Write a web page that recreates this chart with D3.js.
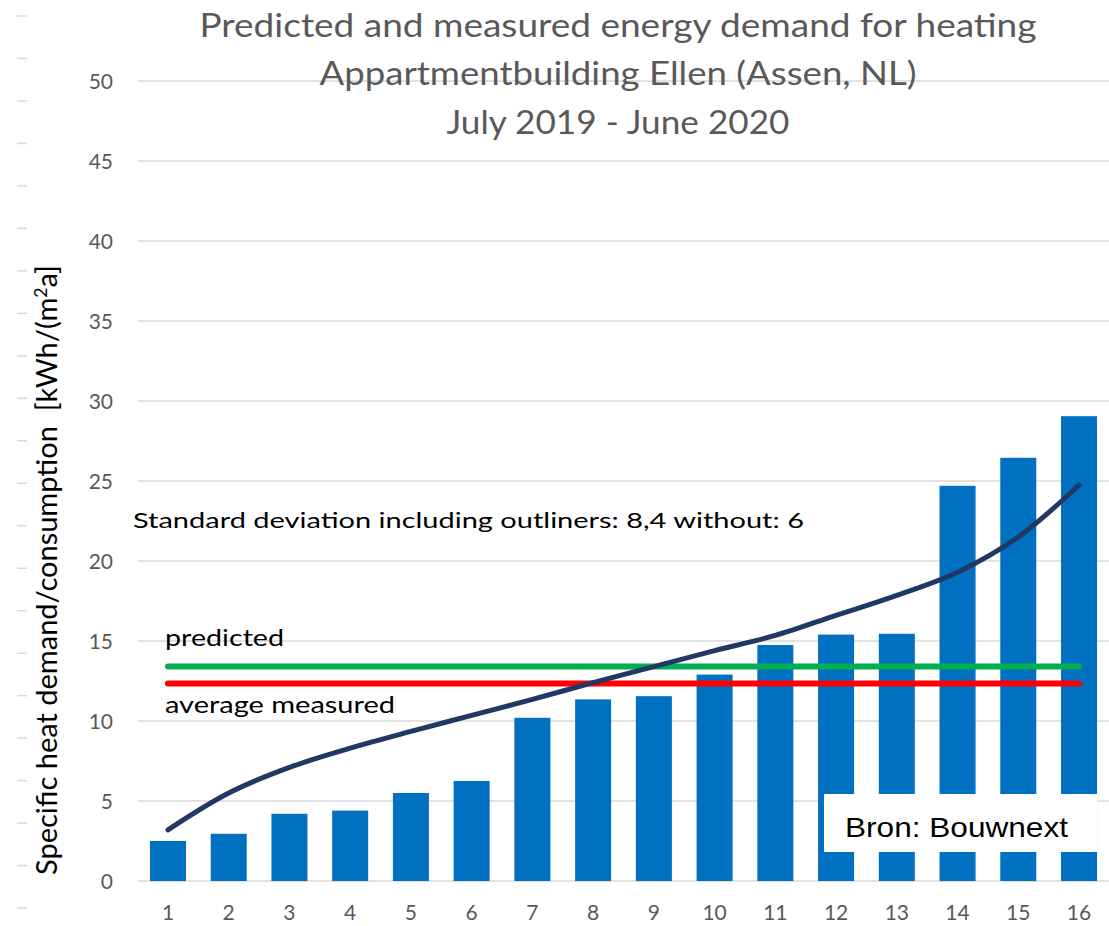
<!DOCTYPE html>
<html>
<head>
<meta charset="utf-8">
<script src="https://cdn.jsdelivr.net/npm/d3@7"></script>
<style>
  html, body { margin: 0; padding: 0; background: #fff; }
  svg { display: block; }
</style>
</head>
<body>
<svg id="chart" width="1109" height="926"></svg>
<script>
// ---- data ----
const categories = ["1","2","3","4","5","6","7","8","9","10","11","12","13","14","15","16"];
const measured   = [2.5, 2.95, 4.2, 4.4, 5.5, 6.25, 10.2, 11.35, 11.55, 12.9, 14.75, 15.4, 15.45, 24.7, 26.45, 29.05];
const trend      = [3.2, 5.5, 7.1, 8.3, 9.35, 10.35, 11.35, 12.4, 13.4, 14.4, 15.35, 16.6, 17.85, 19.3, 21.5, 24.75];
const predictedValue = 13.4;
const averageMeasuredValue = 12.35;
const yTicks = [0, 5, 10, 15, 20, 25, 30, 35, 40, 45, 50];
const titleLines = ["Predicted and measured energy demand for heating",
                    "Appartmentbuilding Ellen (Assen, NL)",
                    "July 2019 - June 2020"];
const stdText = "Standard deviation including outliners: 8,4 without: 6";
const sourceText = "Bron: Bouwnext";

// ---- layout ----
const svg = d3.select("#chart");
const font = "Lato, 'Open Sans', sans-serif";
const x = d3.scaleBand().domain(categories).range([137.6, 1109.4]).paddingInner(0.407).paddingOuter(0.2035);
const y = d3.scaleLinear().domain([0, 50]).range([881, 81]);
const cx = d => x(d) + x.bandwidth() / 2;

// decorative left ruler dashes
svg.append("g").selectAll("line").data(d3.range(22)).join("line")
  .attr("x1", 17).attr("x2", 27)
  .attr("y1", i => 16 + i * 42.48).attr("y2", i => 16 + i * 42.48)
  .attr("stroke", "#d9d9d9").attr("stroke-width", 1.5);

// gridlines
svg.append("g").selectAll("line").data(yTicks).join("line")
  .attr("x1", 138).attr("x2", 1109)
  .attr("y1", d => y(d)).attr("y2", d => y(d))
  .attr("stroke", "#d9d9d9").attr("stroke-width", 1.5);

// y axis labels
const yAxis = svg.append("g").attr("transform", "translate(113,0)")
  .call(d3.axisLeft(y).tickValues(yTicks).tickSize(0).tickPadding(0));
yAxis.select(".domain").remove();
yAxis.selectAll("text").attr("font-family", font).attr("font-size", 21).attr("fill", "#595959").attr("dy", "0.36em");

// x axis labels
const xAxis = svg.append("g").attr("transform", "translate(0,881)")
  .call(d3.axisBottom(x).tickSize(0).tickPadding(24));
xAxis.select(".domain").remove();
xAxis.selectAll("text").attr("font-family", font).attr("font-size", 21).attr("fill", "#595959");

// bars
svg.append("g").selectAll("rect").data(categories).join("rect")
  .attr("x", d => x(d)).attr("width", x.bandwidth())
  .attr("y", (d, i) => y(measured[i])).attr("height", (d, i) => y(0) - y(measured[i]))
  .attr("fill", "#0070C0");

// horizontal reference lines
const first = categories[0], last = categories[categories.length - 1];
svg.append("line").attr("x1", cx(first)).attr("x2", cx(last))
  .attr("y1", y(predictedValue)).attr("y2", y(predictedValue))
  .attr("stroke", "#00B050").attr("stroke-width", 6).attr("stroke-linecap", "round");
svg.append("line").attr("x1", cx(first)).attr("x2", cx(last))
  .attr("y1", y(averageMeasuredValue)).attr("y2", y(averageMeasuredValue))
  .attr("stroke", "#FF0000").attr("stroke-width", 6).attr("stroke-linecap", "round");

// trend curve
const line = d3.line().x((d, i) => cx(categories[i])).y(d => y(d)).curve(d3.curveCatmullRom.alpha(0.5));
svg.append("path").datum(trend).attr("d", line)
  .attr("fill", "none").attr("stroke", "#203864").attr("stroke-width", 5).attr("stroke-linecap", "round");

// annotations
svg.append("text").attr("x", 165).attr("y", 646).text("predicted")
  .attr("font-family", font).attr("font-size", 23).attr("fill", "#000")
  .attr("textLength", 119).attr("lengthAdjust", "spacingAndGlyphs");
svg.append("text").attr("x", 165).attr("y", 713).text("average measured")
  .attr("font-family", font).attr("font-size", 23).attr("fill", "#000")
  .attr("textLength", 230).attr("lengthAdjust", "spacingAndGlyphs");
svg.append("text").attr("x", 133).attr("y", 528).text(stdText)
  .attr("font-family", font).attr("font-size", 22).attr("fill", "#000")
  .attr("textLength", 671).attr("lengthAdjust", "spacingAndGlyphs");

// title
const titleW = [837, 597, 343];
svg.append("g").selectAll("text").data(titleLines).join("text")
  .attr("x", 618).attr("y", (d, i) => 37 + i * 48.3)
  .attr("text-anchor", "middle")
  .attr("font-family", font).attr("font-size", 33).attr("fill", "#595959")
  .attr("textLength", (d, i) => titleW[i]).attr("lengthAdjust", "spacingAndGlyphs")
  .text(d => d);

// y axis title
const yt = svg.append("text")
  .attr("transform", "translate(57,570) rotate(-90)")
  .attr("text-anchor", "middle")
  .attr("font-family", font).attr("font-size", 28).attr("fill", "#000")
  .attr("textLength", 610).attr("lengthAdjust", "spacingAndGlyphs");
yt.append("tspan").text("Specific heat demand/consumption\u00a0\u00a0[kWh/(m");
yt.append("tspan").text("2").attr("font-size", 17).attr("baseline-shift", "super");
yt.append("tspan").text("a]");

// source box
svg.append("rect").attr("x", 824).attr("y", 794).attr("width", 273).attr("height", 58).attr("fill", "#fff");
svg.append("text").attr("x", 845).attr("y", 837).text(sourceText)
  .attr("font-family", "'Liberation Sans', Arial, sans-serif").attr("font-size", 28).attr("fill", "#000")
  .attr("textLength", 223).attr("lengthAdjust", "spacingAndGlyphs");
</script>
</body>
</html>
